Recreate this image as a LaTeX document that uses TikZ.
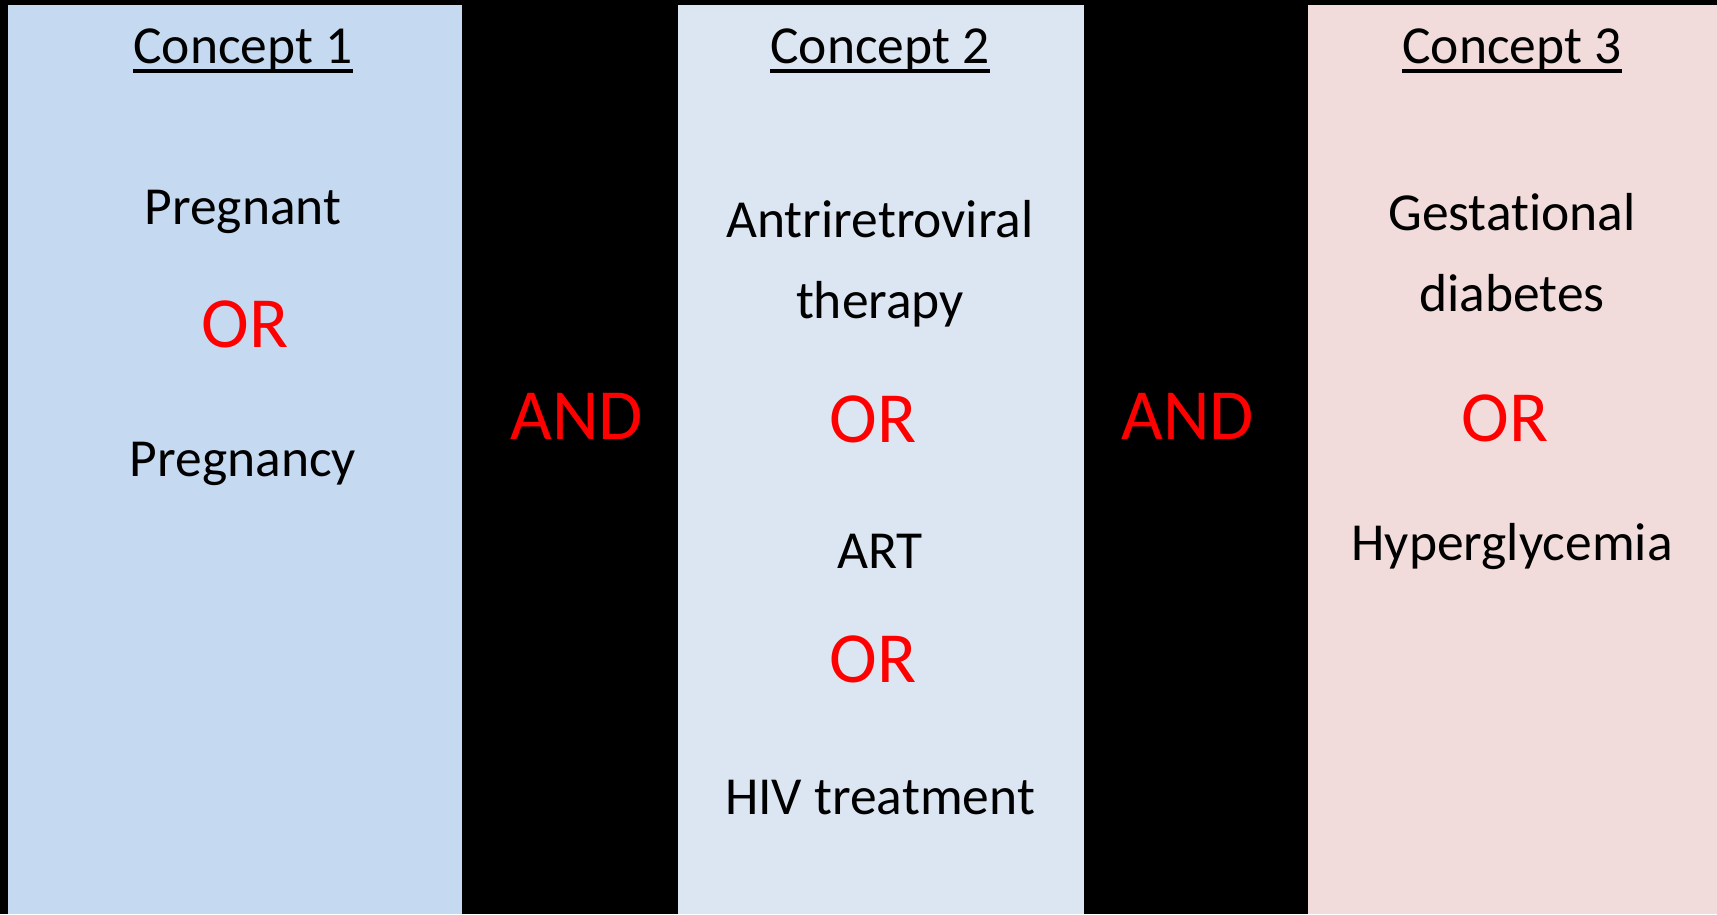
\documentclass[tikz,border=0pt]{standalone}
\usepackage{fontspec}
\setmainfont{Carlito}[Ligatures=NoCommon]
\definecolor{boxA}{HTML}{C5D9F1}
\definecolor{boxB}{HTML}{DCE6F2}
\definecolor{boxC}{HTML}{F2DCDB}
\definecolor{opred}{HTML}{FF0000}
\begin{document}
\begin{tikzpicture}[x=1pt,y=-1pt,
  term/.style={inner sep=0pt, anchor=base, font=\fontsize{53.5}{60}\selectfont, text=black},
  head/.style={term},
  oper/.style={inner sep=0pt, anchor=base, font=\fontsize{72}{80}\selectfont, text=opred},
  uline/.style={line width=4pt}]
\useasboundingbox (0,0) rectangle (1717,914);
\fill[black] (0,0) rectangle (1717,914);
\fill[boxA] (8,5) rectangle (462,914);
\fill[boxB] (678,5) rectangle (1084,914);
\fill[boxC] (1308,5) rectangle (1717,914);
% Concept 1
\node[head] (c1) at (243,63) {Concept 1};
\draw[uline] ([yshift=-7.5]c1.base west) -- ([yshift=-7.5]c1.base east);
\node[term] (p1) at (243,224) {Pregnant};
\node[oper] (or1) at (245,347) {OR};
\node[term] (p2) at (243,476) {Pregnancy};
% AND 1
\node[oper] (and1) at (577,439) {AND};
% Concept 2
\node[head] (c2) at (880,63) {Concept 2};
\draw[uline] ([yshift=-7.5]c2.base west) -- ([yshift=-7.5]c2.base east);
\node[term] (a1) at (880,237) {Antriretroviral};
\node[term] (a2) at (880,318) {therapy};
\node[oper] (or2) at (873,442) {OR};
\node[term] (a3) at (880,568) {ART};
\node[oper] (or3) at (873,682) {OR};
\node[term] (a4) at (880,814) {HIV treatment};
% AND 2
\node[oper] (and2) at (1188,439) {AND};
% Concept 3
\node[head] (c3) at (1512,63) {Concept 3};
\draw[uline] ([yshift=-7.5]c3.base west) -- ([yshift=-7.5]c3.base east);
\node[term] (g1) at (1512,230) {Gestational};
\node[term] (g2) at (1512,311) {diabetes};
\node[oper] (or4) at (1505,441) {OR};
\node[term] (g3) at (1512,560) {Hyperglycemia};
\end{tikzpicture}
\end{document}
